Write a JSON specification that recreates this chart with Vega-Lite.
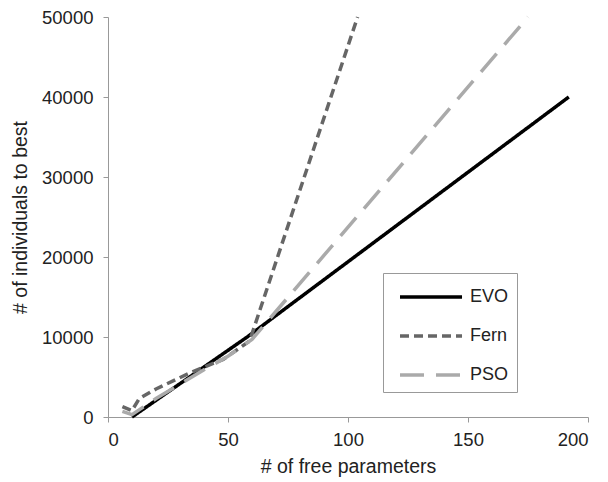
{
  "$schema": "https://vega.github.io/schema/vega-lite/v6.json",
  "autosize": "none",
  "width": 480,
  "height": 400,
  "padding": {"left": 108, "top": 17, "right": 20, "bottom": 65},
  "background": "white",
  "config": {
    "view": {"stroke": null},
    "font": "Liberation Sans"
  },
  "data": {
    "values": [
      {"series": "EVO", "x": 10, "y": 0},
      {"series": "EVO", "x": 22, "y": 2500},
      {"series": "EVO", "x": 34, "y": 5000},
      {"series": "EVO", "x": 46, "y": 7500},
      {"series": "EVO", "x": 58, "y": 10000},
      {"series": "EVO", "x": 192, "y": 40000},
      {"series": "Fern", "x": 6, "y": 1300},
      {"series": "Fern", "x": 10, "y": 800},
      {"series": "Fern", "x": 13, "y": 2300},
      {"series": "Fern", "x": 20, "y": 3500},
      {"series": "Fern", "x": 34, "y": 5500},
      {"series": "Fern", "x": 48, "y": 7200},
      {"series": "Fern", "x": 59, "y": 9500},
      {"series": "Fern", "x": 104, "y": 50000},
      {"series": "PSO", "x": 6, "y": 700},
      {"series": "PSO", "x": 10, "y": 300},
      {"series": "PSO", "x": 20, "y": 2300},
      {"series": "PSO", "x": 30, "y": 4100},
      {"series": "PSO", "x": 40, "y": 5900},
      {"series": "PSO", "x": 50, "y": 7600},
      {"series": "PSO", "x": 60, "y": 9700},
      {"series": "PSO", "x": 175, "y": 50000}
    ]
  },
  "mark": {"type": "line", "strokeWidth": 3.5, "strokeCap": "butt"},
  "encoding": {
    "x": {
      "field": "x", "type": "quantitative",
      "scale": {"domain": [0, 200], "nice": false},
      "axis": {
        "title": "# of free parameters",
        "values": [0, 50, 100, 150, 200],
        "grid": false,
        "domainColor": "#999", "tickColor": "#999", "tickSize": 5,
        "labelFontSize": 18.5, "labelColor": "#222", "labelPadding": 8,
        "titleFontSize": 19.5, "titleFontWeight": "normal", "titleColor": "#222", "titlePadding": 9
      }
    },
    "y": {
      "field": "y", "type": "quantitative",
      "scale": {"domain": [0, 50000], "nice": false},
      "axis": {
        "title": "# of individuals to best",
        "values": [0, 10000, 20000, 30000, 40000, 50000],
        "format": "d",
        "grid": false,
        "domainColor": "#999", "tickColor": "#999", "tickSize": 5,
        "labelFontSize": 18.5, "labelColor": "#222", "labelPadding": 10,
        "titleFontSize": 19.5, "titleFontWeight": "normal", "titleColor": "#222", "titlePadding": 11
      }
    },
    "color": {
      "field": "series", "type": "nominal",
      "scale": {"domain": ["EVO", "Fern", "PSO"], "range": ["#000000", "#666666", "#aaaaaa"]},
      "legend": {
        "title": null,
        "orient": "none",
        "legendX": 275,
        "legendY": 256,
        "padding": 8,
        "strokeColor": "#999",
        "fillColor": "white",
        "symbolType": "M-0.5,0H3.93",
        "symbolSize": 784,
        "symbolStrokeWidth": 3.5,
        "rowPadding": 14,
        "labelOffset": 47,
        "labelFontSize": 18,
        "labelColor": "#222"
      }
    },
    "strokeDash": {
      "field": "series", "type": "nominal",
      "scale": {"domain": ["EVO", "Fern", "PSO"], "range": [[1, 0], [9, 5], [24, 12]]},
      "legend": {
        "title": null,
        "orient": "none",
        "legendX": 275,
        "legendY": 256,
        "padding": 8,
        "strokeColor": "#999",
        "fillColor": "white",
        "symbolType": "M-0.5,0H3.93",
        "symbolSize": 784,
        "symbolStrokeWidth": 3.5,
        "rowPadding": 14,
        "labelOffset": 47,
        "labelFontSize": 18,
        "labelColor": "#222"
      }
    }
  }
}
